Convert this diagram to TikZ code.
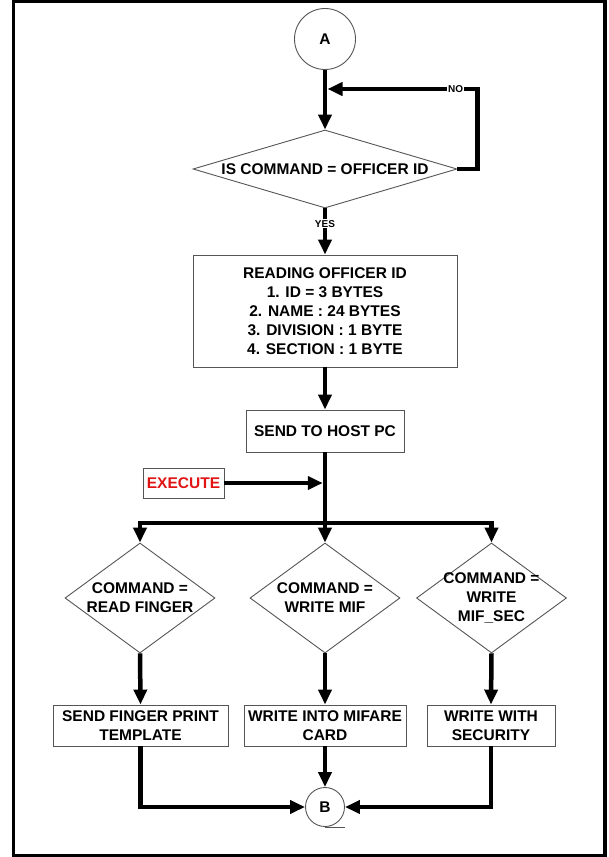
\documentclass[tikz,border=0pt]{standalone}
\usepackage{fontspec}
\setmainfont{Liberation Sans}
\usetikzlibrary{shapes.geometric,arrows.meta}
\definecolor{edgegray}{RGB}{85,85,85}
\definecolor{execred}{RGB}{225,20,20}
\begin{document}
\begin{tikzpicture}[x=1pt,y=-1pt,
  every node/.style={font=\fontsize{15.5}{19}\selectfont\bfseries},
  flowbox/.style={draw=edgegray, line width=0.9pt, rectangle, align=center, inner sep=0pt},
  decide/.style={draw=edgegray, line width=0.9pt, diamond, align=center, inner sep=0pt},
  smalldecide/.style={decide, inner xsep=-20pt, inner ysep=-10pt,
    minimum width=150pt, minimum height=110pt},
  joint/.style={draw=edgegray, line width=0.9pt, circle, inner sep=0pt},
  tag/.style={fill=white, inner sep=1pt, font=\fontsize{10}{12}\selectfont\bfseries},
  flow/.style={line width=4.5pt, -{Triangle[length=15pt,width=13pt]}},
  plain/.style={line width=4.5pt}]

\useasboundingbox (0,0) rectangle (608,857);
% page frame
\draw[line width=3.5pt] (13.7,1.7) rectangle (605,856);

% nodes
\node[joint, minimum size=61pt] (A) at (325,39) {A};
\node[decide, aspect=3.38, minimum width=264pt, minimum height=78pt] (q1) at (325,169) {IS COMMAND = OFFICER ID};
\node[flowbox, minimum width=264pt, minimum height=112pt] (read) at (325,311)
  {READING OFFICER ID\\1. ID = 3 BYTES\\2. NAME : 24 BYTES\\3. DIVISION : 1 BYTE\\4. SECTION : 1 BYTE};
\node[flowbox, minimum width=158pt, minimum height=42pt] (host) at (325,431) {SEND TO HOST PC};
\node[flowbox, minimum width=81pt, minimum height=30pt, text=execred] (exec) at (183.5,483) {EXECUTE};
\coordinate (split) at (325,523);
\coordinate (execin) at (322.75,483);
\coordinate (loopin) at (327.5,89);

\node[smalldecide] (qf) at (140,598) {COMMAND =\\READ FINGER};
\node[smalldecide] (qm) at (325,598) {COMMAND =\\WRITE MIF};
\node[smalldecide] (qs) at (491.5,598) {COMMAND =\\WRITE\\MIF\_SEC};

\node[flowbox, minimum width=175pt, minimum height=41pt] (tpl) at (140.5,725.5) {SEND FINGER PRINT\\TEMPLATE};
\node[flowbox, minimum width=162pt, minimum height=41pt] (mif) at (325,725.5) {WRITE INTO MIFARE\\CARD};
\node[flowbox, minimum width=128pt, minimum height=41pt] (sec) at (491,725.5) {WRITE WITH\\SECURITY};

\node[joint, minimum size=39pt] (B) at (325,807) {B};

% connectors
\draw[flow] (A.south) -- (q1.north);
\draw[flow] (q1.east) -- ++(20,0) |- node[tag, pos=0.573] {NO} (loopin);
\draw[flow] (q1.south) -- node[tag, pos=0.33] {YES} (read.north);
\draw[flow] (read.south) -- (host.north);
\draw[plain] (host.south) -- (split);
\draw[flow] (exec.east) -- (execin);
\draw[flow] (split) -- (qm.north);
\draw[flow] (split) -| (qf.north);
\draw[flow] (split) -| (qs.north);
\draw[flow] (qf.south) -- (tpl.north);
\draw[flow] (qm.south) -- (mif.north);
\draw[flow] (qs.south) -- (sec.north);
\draw[flow] (tpl.south) |- (B.west);
\draw[flow] (mif.south) -- (B.north);
\draw[flow] (sec.south) |- (B.east);
\draw[edgegray, line width=0.9pt] (B.south) -- ([xshift=20pt]B.south);
\end{tikzpicture}
\end{document}
